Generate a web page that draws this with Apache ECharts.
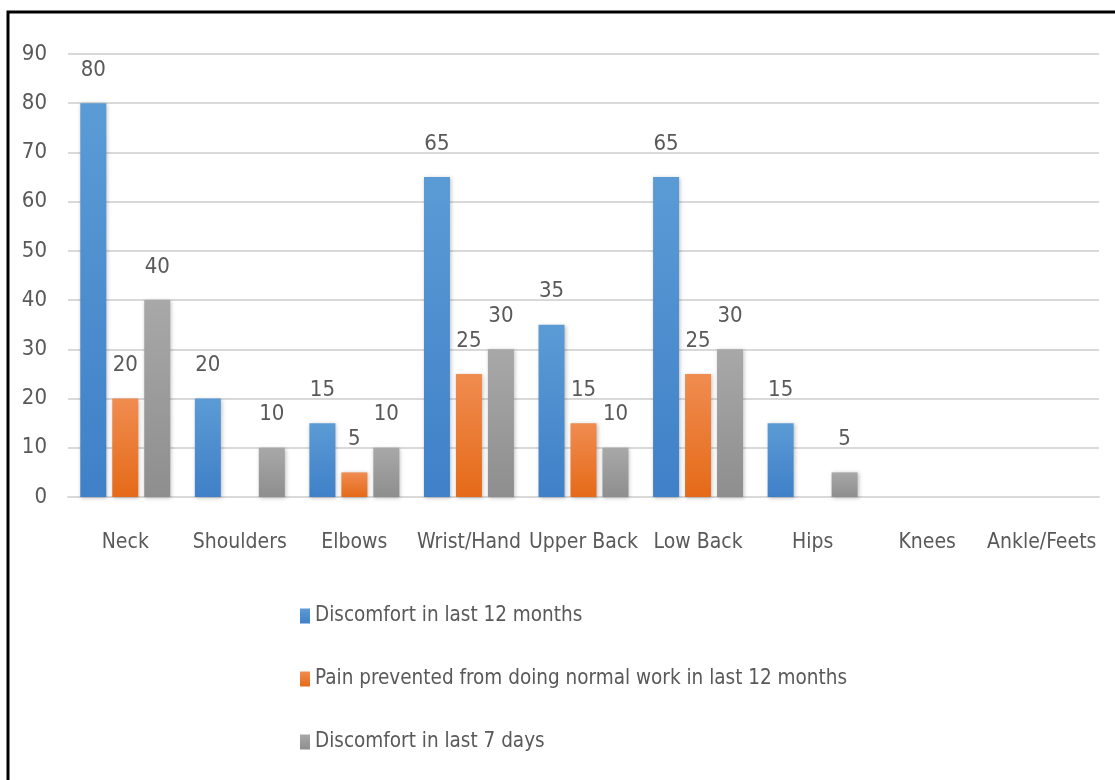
<!DOCTYPE html>
<html>
<head>
<meta charset="utf-8">
<script src="https://cdn.jsdelivr.net/npm/echarts@6/dist/echarts.min.js"></script>
<style>
  html, body { margin: 0; padding: 0; background: #ffffff; }
  #chart { width: 1115px; height: 780px; }
</style>
</head>
<body>
<div id="chart"></div>
<script>
// Body regions and survey percentages
const categories = ['Neck', 'Shoulders', 'Elbows', 'Wrist/Hand', 'Upper Back', 'Low Back', 'Hips', 'Knees', 'Ankle/Feets'];
const discomfort12m = [80, 20, 15, 65, 35, 65, 15, 0, 0];
const painPrevented12m = [20, 0, 5, 25, 15, 25, 0, 0, 0];
const discomfort7d = [40, 10, 10, 30, 10, 30, 5, 0, 0];
const seriesNames = [
  'Discomfort in last 12 months',
  'Pain prevented from doing normal work in last 12 months',
  'Discomfort in last 7 days'
];
const yTicks = { min: 0, max: 90, interval: 10 };

const FONT = "'DejaVu Sans Condensed', 'Noto Sans', sans-serif";
const TEXT = '#595959';

function grad(top, bottom) {
  return new echarts.graphic.LinearGradient(0, 0, 0, 1, [
    { offset: 0, color: top },
    { offset: 1, color: bottom }
  ]);
}

function barSeries(name, data, top, bottom) {
  return {
    name: name,
    type: 'bar',
    data: data,
    barWidth: 26,
    barGap: '23%',
    itemStyle: {
      color: grad(top, bottom),
      shadowColor: 'rgba(0,0,0,0.25)',
      shadowBlur: 4,
      shadowOffsetX: 1,
      shadowOffsetY: 1
    },
    label: {
      show: true,
      position: 'top',
      distance: 22,
      color: TEXT,
      fontFamily: FONT,
      fontSize: 22,
      formatter: p => (p.value === 0 ? '' : String(p.value))
    },
    emphasis: { disabled: true }
  };
}

const chart = echarts.init(document.getElementById('chart'), null, { renderer: 'canvas' });

chart.setOption({
  animation: false,
  backgroundColor: '#ffffff',
  color: ['#4a8fd4', '#ee7a2c', '#9d9d9d'],
  graphic: [
    {
      type: 'rect',
      shape: { x: 8, y: 12, width: 1200, height: 900 },
      style: { fill: 'none', stroke: '#000000', lineWidth: 3 },
      silent: true,
      z: 100
    }
  ],
  grid: { left: 68, right: 16, top: 54, bottom: 283, containLabel: false },
  legend: {
    orient: 'vertical',
    left: 300,
    top: 604,
    padding: 0,
    itemWidth: 10,
    itemHeight: 15,
    itemGap: 39,
    icon: 'rect',
    textStyle: { color: TEXT, fontFamily: FONT, fontSize: 20.5, lineHeight: 24 },
    data: seriesNames
  },
  xAxis: {
    type: 'category',
    data: categories,
    axisLine: { lineStyle: { color: '#d9d9d9', width: 2 } },
    axisTick: { show: false },
    axisLabel: { color: TEXT, fontFamily: FONT, fontSize: 21, margin: 35, interval: 0 }
  },
  yAxis: {
    type: 'value',
    min: yTicks.min,
    max: yTicks.max,
    interval: yTicks.interval,
    axisLine: { show: false },
    axisTick: { show: false },
    axisLabel: { color: TEXT, fontFamily: FONT, fontSize: 22, margin: 21 },
    splitLine: { lineStyle: { color: '#d9d9d9', width: 2 } }
  },
  series: [
    barSeries(seriesNames[0], discomfort12m, '#5b9bd5', '#3f80c8'),
    barSeries(seriesNames[1], painPrevented12m, '#f08c50', '#e56a18'),
    barSeries(seriesNames[2], discomfort7d, '#a8a8a8', '#8e8e8e')
  ]
});
</script>
</body>
</html>
